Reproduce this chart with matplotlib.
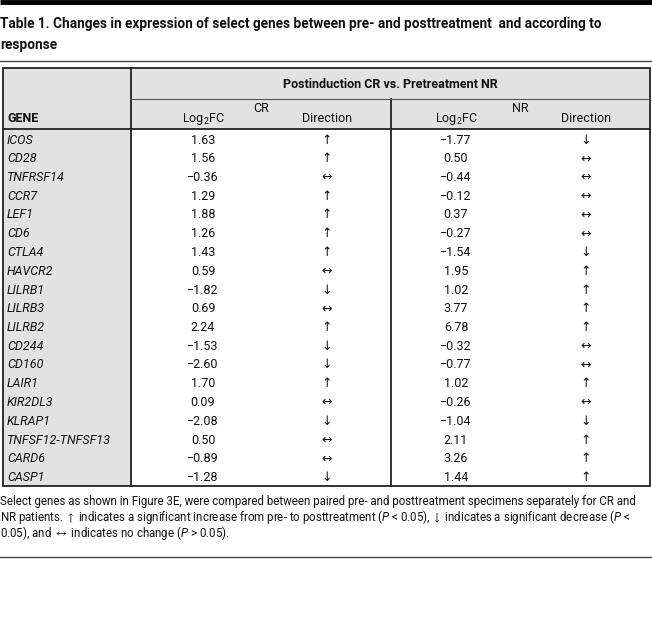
import matplotlib
matplotlib.use("Agg")
import matplotlib.pyplot as plt
from matplotlib.patches import Rectangle

plt.rcParams['font.family'] = ['Roboto', 'DejaVu Sans']
plt.rcParams['mathtext.fontset'] = 'custom'
plt.rcParams['mathtext.rm'] = 'Roboto'
plt.rcParams['mathtext.it'] = 'Roboto:italic'
plt.rcParams['mathtext.bf'] = 'Roboto:bold'
plt.rcParams['mathtext.fallback'] = 'stixsans'

title_lines = ["Table 1. Changes in expression of select genes between pre- and posttreatment  and according to",
               "response"]
group_header = "Postinduction CR vs. Pretreatment NR"
subgroups = ["CR", "NR"]
col_headers = ["GENE", r"Log$_2$FC", "Direction", r"Log$_2$FC", "Direction"]

genes = ["ICOS", "CD28", "TNFRSF14", "CCR7", "LEF1", "CD6", "CTLA4", "HAVCR2", "LILRB1",
         "LILRB3", "LILRB2", "CD244", "CD160", "LAIR1", "KIR2DL3", "KLRAP1",
         "TNFSF12-TNFSF13", "CARD6", "CASP1"]
cr_fc = [1.63, 1.56, -0.36, 1.29, 1.88, 1.26, 1.43, 0.59, -1.82,
         0.69, 2.24, -1.53, -2.60, 1.70, 0.09, -2.08, 0.50, -0.89, -1.28]
cr_dir = ["↑", "↑", "↔", "↑", "↑", "↑", "↑", "↔", "↓",
          "↔", "↑", "↓", "↓", "↑", "↔", "↓", "↔", "↔", "↓"]
nr_fc = [-1.77, 0.50, -0.44, -0.12, 0.37, -0.27, -1.54, 1.95, 1.02,
         3.77, 6.78, -0.32, -0.77, 1.02, -0.26, -1.04, 2.11, 3.26, 1.44]
nr_dir = ["↓", "↔", "↔", "↔", "↔", "↔", "↓", "↑", "↑",
          "↑", "↑", "↔", "↔", "↑", "↔", "↓", "↑", "↑", "↑"]

footnote = [
    "Select genes as shown in Figure 3E, were compared between paired pre- and posttreatment specimens separately for CR and",
    r"NR patients. $\uparrow$ indicates a significant increase from pre- to posttreatment ($\mathit{P}$ < 0.05), $\downarrow$ indicates a significant decrease ($\mathit{P}$ <",
    r"0.05), and $\leftrightarrow$ indicates no change ($\mathit{P}$ > 0.05).",
]

W, H = 652, 621
fig = plt.figure(figsize=(W / 100, H / 100), dpi=100)
ax = fig.add_axes([0, 0, 1, 1])
ax.set_xlim(0, W)
ax.set_ylim(H, 0)
ax.axis('off')

def fmt(v):
    return f"{v:.2f}".replace("-", "\u2212")

# layout
tl, tr = 2.5, 650
gx, dx = 131, 391
top, sub, hb = 68, 98.5, 129
row0, rowh = 140, 18.75
bottom = hb + rowh * len(genes) + 0.5
gray = "#e2e2e2"
dark = "#222222"
tc = "#111111"

# top bar and title
ax.plot([0, W], [1.5, 1.5], color="black", lw=3.5, solid_capstyle='butt')
for i, t in enumerate(title_lines):
    ax.text(0, 24 + i * 21, t, fontsize=9.8, fontweight='bold', va='center', ha='left', color=tc)
ax.plot([0, W], [60.5, 60.5], color="#444444", lw=1.0)

# backgrounds
ax.add_patch(Rectangle((tl, top), tr - tl, hb - top, facecolor=gray, edgecolor='none'))
ax.add_patch(Rectangle((tl, hb), gx - tl, bottom - hb, facecolor=gray, edgecolor='none'))

# lines
ax.add_patch(Rectangle((tl, top), tr - tl, bottom - top, facecolor='none', edgecolor=dark, lw=1.3))
ax.plot([gx, gx], [top, bottom], color=dark, lw=1.3)
ax.plot([dx, dx], [sub, bottom], color=dark, lw=1.3)
ax.plot([gx, tr], [sub, sub], color="#555555", lw=0.8)
ax.plot([tl, tr], [hb, hb], color=dark, lw=1.3)

# headers
fs = 9.0
ax.text((gx + tr) / 2, 84, group_header, fontsize=fs, fontweight='bold', ha='center', va='center', color=tc)
ax.text((gx + dx) / 2, 108, subgroups[0], fontsize=fs, ha='center', va='center', color=tc)
ax.text((dx + tr) / 2, 108, subgroups[1], fontsize=fs, ha='center', va='center', color=tc)
col_x = [7, 203, 327, 456, 586]
for j, h in enumerate(col_headers):
    ax.text(col_x[j], 119, h, fontsize=fs, ha='left' if j == 0 else 'center', va='center',
            fontweight='bold' if j == 0 else 'normal', color=tc)

# body
for i, g in enumerate(genes):
    y = row0 + i * rowh
    ax.text(col_x[0], y, g, fontsize=fs, style='italic', ha='left', va='center', color=tc)
    ax.text(col_x[1], y, fmt(cr_fc[i]), fontsize=fs, ha='center', va='center', color=tc)
    ax.text(col_x[2], y, cr_dir[i], fontsize=fs, ha='center', va='center', color=tc,
            family=['DejaVu Sans'])
    ax.text(col_x[3], y, fmt(nr_fc[i]), fontsize=fs, ha='center', va='center', color=tc)
    ax.text(col_x[4], y, nr_dir[i], fontsize=fs, ha='center', va='center', color=tc,
            family=['DejaVu Sans'])

# footnote
for i, t in enumerate(footnote):
    ax.text(0, 501 + i * 16.2, t, fontsize=8.3, ha='left', va='center', color=tc)
ax.plot([0, W], [557, 557], color="#444444", lw=1.0)

fig.savefig("out.png", dpi=100, facecolor="white")
